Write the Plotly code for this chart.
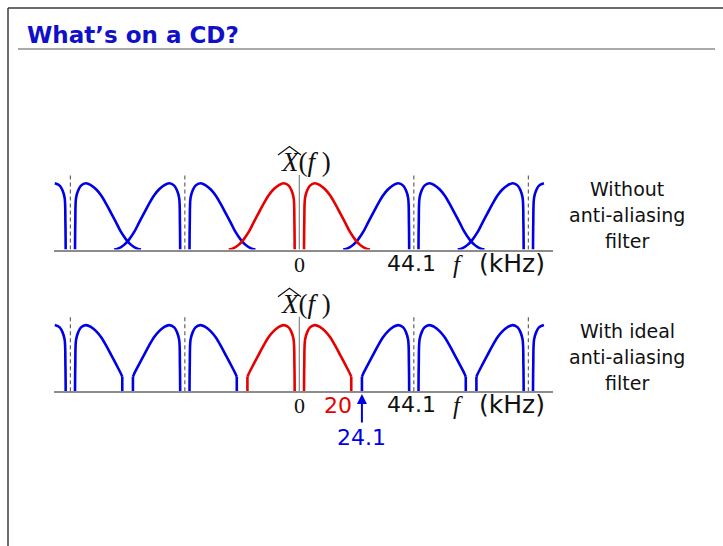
import plotly.graph_objects as go

W, H = 723, 546

# ---------------- data ----------------
fs_khz = 44.1                      # sampling rate, replica spacing
replica_index = [-2, -1, 0, 1, 2]  # replicas k*fs drawn (k=0 is the original)
# one-sided shape of |X(f)| for f>0 (kHz, relative amplitude)
lobe_f = [1.8, 1.9, 2.2, 3.0, 4.1, 6.0, 8.0, 9.9, 11.8, 13.8, 15.7, 17.6,
          19.5, 21.5, 23.4, 25.3, 27.2]
lobe_amp = [0.0, 0.40, 0.78, 0.89, 0.965, 1.0, 0.97, 0.91, 0.82, 0.69, 0.55,
            0.41, 0.265, 0.15, 0.07, 0.02, 0.0]
cutoff_khz = 20.0                  # ideal anti-aliasing filter cut-off
cutoff_amp = 0.22                  # spectrum height where it is cut
visible_limit = 94.25              # drawn portion of the spectrum (|f| kHz)
x_range = [-94.5, 97.7]
amp_range = [0.0, 1.25]
dash_lines = [-2, -1, 1, 2]        # multiples of fs marked with dashed lines

RED = "#e60000"
BLUE = "#0000e6"
GRAY = "#8c8c8c"


def px(x):
    return x / W


def py(y):
    return 1 - y / H


def lobes(k, truncated):
    """Return (xs, ys) of both halves of replica k, None separated."""
    xs, ys = [], []
    for sign in (1, -1):
        seg_x, seg_y = [], []
        for f, a in zip(lobe_f, lobe_amp):
            if truncated and f > cutoff_khz:
                break
            seg_x.append(k * fs_khz + sign * f)
            seg_y.append(a)
        if truncated:
            seg_x.append(k * fs_khz + sign * cutoff_khz)
            seg_y.append(cutoff_amp)
        keep = [(x, y) for x, y in zip(seg_x, seg_y) if abs(x) <= visible_limit]
        if keep:
            xs += [p[0] for p in keep] + [None]
            ys += [p[1] for p in keep] + [None]
    return xs, ys


def drops(k):
    xs, ys = [], []
    for sign in (1, -1):
        x = k * fs_khz + sign * cutoff_khz
        if abs(x) <= visible_limit:
            xs += [x, x, None]
            ys += [cutoff_amp, 0, None]
    return xs, ys


fig = go.Figure()

for truncated, xa, ya in ((False, "x", "y"), (True, "x2", "y2")):
    for color, ks in ((BLUE, [k for k in replica_index if k != 0]), (RED, [0])):
        X, Y = [], []
        DX, DY = [], []
        for k in ks:
            a, b = lobes(k, truncated)
            X += a
            Y += b
            if truncated:
                c, d = drops(k)
                DX += c
                DY += d
        fig.add_trace(go.Scatter(x=X, y=Y, mode="lines", xaxis=xa, yaxis=ya,
                                 line=dict(color=color, width=2.6, shape="spline",
                                           smoothing=1.0),
                                 hoverinfo="skip", showlegend=False))
        if truncated:
            fig.add_trace(go.Scatter(x=DX, y=DY, mode="lines", xaxis=xa, yaxis=ya,
                                     line=dict(color=color, width=2.6),
                                     hoverinfo="skip", showlegend=False))

# axes
xdom = [px(54), px(553)]
common_x = dict(domain=xdom, range=x_range, showgrid=False, zeroline=False,
                showticklabels=False, ticks="", showline=True, linecolor=GRAY,
                linewidth=1.5, fixedrange=True)
common_y = dict(range=amp_range, visible=False, showgrid=False, zeroline=False,
                fixedrange=True)
top_base, bot_base, unit = 249.5, 391.3, 66.2
fig.update_layout(
    width=W, height=H, margin=dict(l=0, r=0, t=0, b=0),
    paper_bgcolor="white", plot_bgcolor="rgba(0,0,0,0)",
    xaxis=dict(anchor="y", **common_x),
    xaxis2=dict(anchor="y2", **common_x),
    yaxis=dict(domain=[py(top_base), py(top_base - amp_range[1] * unit)], **common_y),
    yaxis2=dict(domain=[py(bot_base), py(bot_base - amp_range[1] * unit)], **common_y),
)

shapes = []
# frame and title rule
shapes.append(dict(type="line", xref="paper", yref="paper", x0=px(8), x1=px(723),
                   y0=py(8), y1=py(8), line=dict(color="#3a3a3a", width=1.5)))
shapes.append(dict(type="line", xref="paper", yref="paper", x0=px(8), x1=px(8),
                   y0=py(8), y1=py(546), line=dict(color="#3a3a3a", width=1.5)))
shapes.append(dict(type="line", xref="paper", yref="paper", x0=px(18), x1=px(715),
                   y0=py(49), y1=py(49), line=dict(color="#555555", width=1.2)))
for xa, ya in (("x", "y"), ("x2", "y2")):
    shapes.append(dict(type="line", xref=xa, yref=ya, x0=0, x1=0, y0=0, y1=1.125,
                       line=dict(color=GRAY, width=1.3)))
    for k in dash_lines:
        shapes.append(dict(type="line", xref=xa, yref=ya, x0=k * fs_khz, x1=k * fs_khz,
                           y0=0, y1=1.16, line=dict(color="#555555", width=1.1, dash="4px,3px")))

ann = []
SANS = "DejaVu Sans"
SERIF = "Liberation Serif"
ann.append(dict(text="<b>What\u2019s on a CD?</b>", xref="paper", yref="paper",
                x=px(25), y=py(35), xanchor="left", yanchor="middle", showarrow=False,
                font=dict(family=SANS, size=23, color="#1010c8")))

for (xa, yoff, ylab) in (("x", 0, 0), ("x2", 141.8, 1)):
    # X-hat(f) label
    ann.append(dict(text="<i>X</i>(<i>f</i> )", xref="paper", yref="paper",
                    x=px(306), y=py(162 + yoff), xanchor="center", yanchor="middle",
                    showarrow=False, font=dict(family=SERIF, size=27, color="#111")))
    shapes.append(dict(type="path", xref="paper", yref="paper",
                       path=f"M {px(278)} {py(155 + yoff)} L {px(289.5)} {py(146.5 + yoff)} L {px(301)} {py(155 + yoff)}",
                       line=dict(color="#111", width=1.2)))
    ann.append(dict(text="0", xref=xa, yref="paper", x=0, y=py(264 + yoff),
                    xanchor="center", yanchor="middle", showarrow=False,
                    font=dict(family=SERIF, size=22, color="#111")))
    ann.append(dict(text="44.1", xref=xa, yref="paper", x=fs_khz, y=py(263 + yoff),
                    xanchor="center", yanchor="middle", showarrow=False, xshift=-2,
                    font=dict(family=SANS, size=22, color="#111")))
    ann.append(dict(text="<i>f</i>", xref="paper", yref="paper", x=px(458), y=py(264 + yoff),
                    xanchor="center", yanchor="middle", showarrow=False,
                    font=dict(family=SERIF, size=25, color="#111")))
    ann.append(dict(text="(kHz)", xref="paper", yref="paper", x=px(547), y=py(263 + yoff),
                    xanchor="right", yanchor="middle", showarrow=False,
                    font=dict(family=SANS, size=25, color="#111")))

ann.append(dict(text="20", xref="x2", yref="paper", x=cutoff_khz, y=py(405),
                xanchor="right", yanchor="middle", showarrow=False, xshift=3,
                font=dict(family=SANS, size=22, color=RED)))
ann.append(dict(text="", xref="x2", yref="paper", x=fs_khz - cutoff_khz, y=py(394),
                ax=0, ay=30, axref="pixel", ayref="pixel", showarrow=True,
                arrowhead=2, arrowsize=1, arrowwidth=2, arrowcolor=BLUE))
ann.append(dict(text="24.1", xref="x2", yref="paper", x=fs_khz - cutoff_khz, y=py(437),
                xanchor="center", yanchor="middle", showarrow=False,
                font=dict(family=SANS, size=22, color=BLUE)))

right_top = ["Without", "anti-aliasing", "filter"]
right_bot = ["With ideal", "anti-aliasing", "filter"]
for lines, y0 in ((right_top, 189), (right_bot, 331)):
    for i, t in enumerate(lines):
        ann.append(dict(text=t, xref="paper", yref="paper", x=px(627), y=py(y0 + 26 * i),
                        xanchor="center", yanchor="middle", showarrow=False,
                        font=dict(family=SANS, size=19, color="#111")))

fig.update_layout(shapes=shapes, annotations=ann)
fig.write_html("out.html")
